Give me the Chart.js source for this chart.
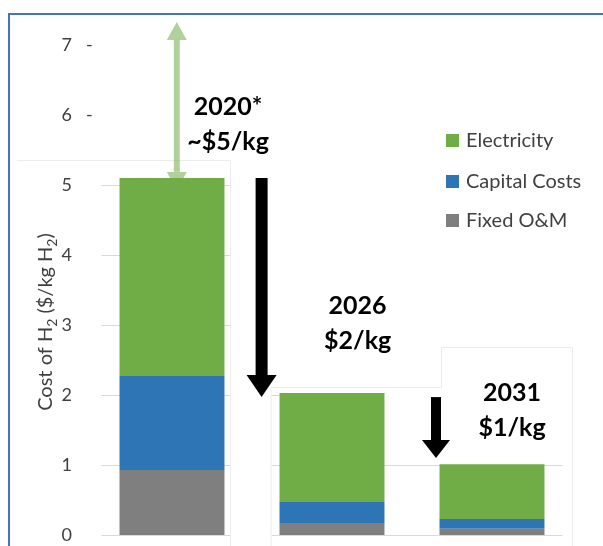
<!DOCTYPE html>
<html>
<head>
<meta charset="utf-8">
<script src="https://cdn.jsdelivr.net/npm/chart.js@4.4.0/dist/chart.umd.min.js"></script>
<style>
body { margin:0; background:#fff; }
#wrap { position:relative; width:603px; height:546px; }
</style>
</head>
<body>
<div id="wrap"><canvas id="myChart" width="603" height="546"></canvas></div>
<script>
// DATA (cost of H2, $/kg)
var years = ['2020', '2026', '2031'];
var fixedOM = [0.93, 0.17, 0.09];
var capital = [1.34, 0.30, 0.14];
var electricity = [2.83, 1.56, 0.78];
var yTicks = [0, 1, 2, 3, 4, 5, 6, 7];
var seriesNames = ['Fixed O&M', 'Capital Costs', 'Electricity'];
var seriesColors = ['#7f7f7f', '#2e75b6', '#70ad47'];
var callouts = [['2020*', '~$5/kg'], ['2026', '$2/kg'], ['2031', '$1/kg']];

var FONT = 'Lato, "Open Sans", sans-serif';
var TXT = '#404040';

//draws a vertical arrow, tip at y1 (and at y0 too if both is true)
function arrow(ctx, x, y0, y1, shaft, headW, headL, color, both) {
  ctx.save();
  ctx.fillStyle = color;
  var top = both ? y0 + headL : y0;
  ctx.fillRect(x - shaft / 2, top, shaft, (y1 - headL) - top);
  ctx.beginPath();
  ctx.moveTo(x - headW / 2, y1 - headL);
  ctx.lineTo(x + headW / 2, y1 - headL);
  ctx.lineTo(x, y1);
  ctx.closePath();
  ctx.fill();
  if (both) {
    ctx.beginPath();
    ctx.moveTo(x - headW / 2, y0 + headL);
    ctx.lineTo(x + headW / 2, y0 + headL);
    ctx.lineTo(x, y0);
    ctx.closePath();
    ctx.fill();
  }
  ctx.restore();
}

//Gridlines only behind the bars, like the pasted panels of the original.
var panelGrid = {
  id: 'panelGrid',
  beforeDatasetsDraw: function(chart) {
    var ctx = chart.ctx, y = chart.scales.y;
    var bars = chart.getDatasetMeta(0).data;
    var b0 = bars[0], b1 = bars[1], b2 = bars[2];
    ctx.save();
    ctx.strokeStyle = '#d9d9d9';
    ctx.lineWidth = 1;
    function hline(v, x0, x1) {
      var py = Math.round(y.getPixelForValue(v)) + 0.5;
      ctx.beginPath(); ctx.moveTo(x0, py); ctx.lineTo(x1, py); ctx.stroke();
    }
    for (var v = 0; v <= 5; v++) hline(v, b0.x - b0.width / 2 - 18, b0.x + b0.width / 2 + 6);
    hline(0, b1.x - b1.width / 2 - 8, b2.x + b2.width / 2 + 18);
    hline(1, b1.x - b1.width / 2 - 8, b2.x + b2.width / 2 + 18);
    hline(2, b1.x - b1.width / 2 - 8, b1.x - b1.width / 2);
    // faint panel edges
    ctx.strokeStyle = '#ececec';
    ctx.beginPath();
    ctx.moveTo(17, 160.5); ctx.lineTo(230.5, 160.5); ctx.lineTo(230.5, 546);
    ctx.moveTo(b1.x - b1.width / 2 - 8.5, 546); ctx.lineTo(b1.x - b1.width / 2 - 8.5, 387.5); ctx.lineTo(441.5, 387.5);
    ctx.lineTo(441.5, 347.5); ctx.lineTo(572.5, 347.5); ctx.lineTo(572.5, 546);
    ctx.stroke();
    ctx.restore();
  }
};

var extras = {
  id: 'extras',
  afterDraw: function(chart) {
    var ctx = chart.ctx, x = chart.scales.x, y = chart.scales.y;

    //outer blue frame
    ctx.save();
    ctx.strokeStyle = '#4472c4';
    ctx.lineWidth = 2;
    ctx.beginPath();
    ctx.moveTo(9, 546); ctx.lineTo(9, 14); ctx.lineTo(603, 14);
    ctx.stroke();
    ctx.restore();

    //the little dashes after 6 and 7
    ctx.save();
    ctx.font = '18px ' + FONT;
    ctx.fillStyle = TXT;
    ctx.textBaseline = 'middle';
    [6, 7].forEach(function(v) { ctx.fillText('-', 86, y.getPixelForValue(v)); });
    ctx.restore();

    //arrows
    arrow(ctx, x.getPixelForValue(0.03), y.getPixelForValue(7.33), y.getPixelForValue(4.93), 6, 20, 18, 'rgba(112,173,71,0.55)', true);
    arrow(ctx, x.getPixelForValue(0.56), y.getPixelForValue(5.1), y.getPixelForValue(1.97), 12, 30, 22, '#000', false);
    arrow(ctx, x.getPixelForValue(1.65), y.getPixelForValue(1.97), y.getPixelForValue(1.1), 10, 28, 18, '#000', false);

    //callout text
    var spots = [[0.35, 6.11, 5.61], [1.16, 3.27, 2.77], [2.125, 2.03, 1.53]];
    ctx.save();
    ctx.font = 'bold 25px ' + FONT;
    ctx.fillStyle = '#000';
    ctx.textAlign = 'center';
    ctx.textBaseline = 'middle';
    callouts.forEach(function(c, i) {
      var s = spots[i];
      ctx.fillText(c[0], x.getPixelForValue(s[0]), y.getPixelForValue(s[1]));
      ctx.fillText(c[1], x.getPixelForValue(s[0]), y.getPixelForValue(s[2]));
    });
    ctx.restore();

    //legend (top series first)
    ctx.save();
    ctx.font = '20px ' + FONT;
    ctx.textBaseline = 'middle';
    var rows = [140, 181, 220];
    var ds = chart.data.datasets;
    for (var i = 0; i < ds.length; i++) {
      var d = ds[ds.length - 1 - i];
      ctx.fillStyle = d.backgroundColor;
      ctx.fillRect(446, rows[i] - 6, 13, 13);
      ctx.fillStyle = TXT;
      ctx.fillText(d.label, 466, rows[i] + 1);
    }
    ctx.restore();

    //y axis title with subscripts
    ctx.save();
    ctx.translate(46, 322);
    ctx.rotate(-Math.PI / 2);
    ctx.fillStyle = TXT;
    ctx.textBaseline = 'middle';
    var parts = [['Cost of H', 0], ['2', 1], [' ($/kg H', 0], ['2', 1], [')', 0]];
    var total = 0;
    parts.forEach(function(p) {
      ctx.font = (p[1] ? '14px ' : '20px ') + FONT;
      p.push(ctx.measureText(p[0]).width);
      total += p[2];
    });
    var px = -total / 2;
    parts.forEach(function(p) {
      ctx.font = (p[1] ? '14px ' : '20px ') + FONT;
      ctx.fillText(p[0], px, p[1] ? 6 : 0);
      px += p[2];
    });
    ctx.restore();
  }
};

const ctx = document.getElementById('myChart').getContext('2d');
const myChart = new Chart(ctx, {
  type: 'bar',
  data: {
    labels: years,
    datasets: [
      { label: seriesNames[0], data: fixedOM, backgroundColor: seriesColors[0] },
      { label: seriesNames[1], data: capital, backgroundColor: seriesColors[1] },
      { label: seriesNames[2], data: electricity, backgroundColor: seriesColors[2] }
    ]
  },
  options: {
    responsive: false,
    animation: false,
    barPercentage: 0.656,
    categoryPercentage: 1,
    layout: { padding: { top: 24, bottom: 11, left: 0, right: 31 } },
    scales: {
      x: { stacked: true, display: false },
      y: {
        stacked: true,
        min: 0,
        max: 7.3,
        afterFit: function(scale) {
          scale.width = 92;
          scale.paddingTop = 0;
          scale.paddingBottom = 0;
        },
        afterBuildTicks: function(scale) {
          scale.ticks = yTicks.map(function(v) { return { value: v }; });
        },
        grid: { display: false },
        border: { display: false },
        ticks: {
          padding: 12,
          color: TXT,
          font: { family: FONT, size: 18 }
        }
      }
    },
    plugins: {
      legend: { display: false },
      tooltip: { enabled: false }
    }
  },
  plugins: [panelGrid, extras]
});
</script>
</body>
</html>
